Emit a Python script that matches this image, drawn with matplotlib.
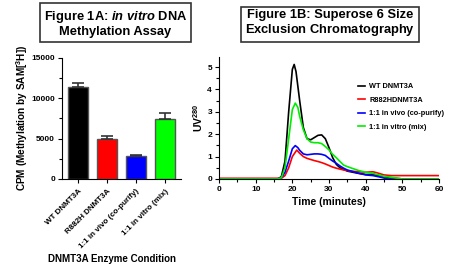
import numpy as np
import matplotlib
matplotlib.use('Agg')
import matplotlib.pyplot as plt
from matplotlib.ticker import MultipleLocator

plt.rcParams['font.family'] = ['Liberation Sans', 'DejaVu Sans']
plt.rcParams['font.weight'] = 'bold'
plt.rcParams['mathtext.fontset'] = 'custom'
plt.rcParams['mathtext.rm'] = 'Liberation Sans:bold'
plt.rcParams['mathtext.bf'] = 'Liberation Sans:bold'
plt.rcParams['mathtext.it'] = 'Liberation Sans:italic:bold'

# Figure 1A data
conditions = ['WT DNMT3A', 'R882H DNMT3A', '1:1 in vivo (co-purify)', '1:1 in vitro (mix)']
cpm = [11400, 5000, 2900, 7400]
cpm_err = [500, 340, 80, 800]
bar_colors = ['#000000', '#ff0000', '#0000ff', '#00ff00']

# Figure 1B data (UV280 traces)
t_wt = [0, 16, 17, 18, 19, 20, 20.5, 21, 22, 23, 24, 25, 26, 27, 28, 29, 30, 31, 32, 33, 35, 38, 40, 42, 45, 48, 50, 60]
uv_wt = [0, 0, 0.1, 0.8, 3.0, 4.9, 5.12, 4.8, 3.5, 2.3, 1.8, 1.75, 1.85, 1.95, 1.97, 1.8, 1.4, 0.95, 0.65, 0.5, 0.35, 0.25, 0.2, 0.2, 0.1, 0.03, 0, 0]

t_r882h = [0, 16, 17, 18, 19, 20, 21.2, 22, 23, 24, 25, 26, 27, 28, 29, 30, 31, 32, 34, 36, 38, 40, 42, 43, 45, 47, 50, 60]
uv_r882h = [0.03, 0.03, 0.03, 0.15, 0.5, 1.0, 1.29, 1.15, 1.0, 0.92, 0.87, 0.82, 0.78, 0.73, 0.67, 0.6, 0.53, 0.48, 0.4, 0.35, 0.32, 0.3, 0.32, 0.28, 0.18, 0.15, 0.15, 0.15]

t_vivo = [0, 16, 17, 18, 19, 20, 20.8, 21.5, 22, 23, 24, 25, 26, 27, 28, 29, 30, 31, 32, 33, 34, 35, 38, 40, 42, 44, 46, 60]
uv_vivo = [0, 0, 0.05, 0.3, 0.8, 1.35, 1.49, 1.4, 1.28, 1.12, 1.08, 1.1, 1.12, 1.12, 1.1, 1.05, 0.92, 0.8, 0.7, 0.58, 0.48, 0.4, 0.26, 0.18, 0.15, 0.08, 0, 0]

t_vitro = [0, 16, 17, 18, 19, 20, 20.8, 21.5, 22, 23, 24, 25, 26, 27, 28, 29, 30, 31, 32, 33, 34, 35, 38, 40, 42, 45, 48, 50, 60]
uv_vitro = [0, 0, 0.05, 0.5, 1.8, 3.1, 3.39, 3.2, 2.8, 2.2, 1.8, 1.65, 1.62, 1.62, 1.58, 1.45, 1.3, 1.1, 0.95, 0.78, 0.62, 0.55, 0.38, 0.3, 0.25, 0.12, 0.05, 0, 0]

fig = plt.figure(figsize=(4.69, 2.77), dpi=100)

# ---- Figure 1A ----
ax1 = fig.add_axes([0.132, 0.354, 0.254, 0.437])
x = np.arange(len(conditions))
ax1.bar(x, cpm, width=0.7, color=bar_colors, edgecolor='#555555', linewidth=1.0,
        yerr=[np.zeros(len(cpm)), cpm_err], capsize=4,
        error_kw=dict(ecolor='#333333', elinewidth=1.2, capthick=1.2))
ax1.set_xlim(-0.55, 3.55)
ax1.set_ylim(0, 15000)
ax1.yaxis.set_major_locator(MultipleLocator(5000))
ax1.yaxis.set_minor_locator(MultipleLocator(2500))
ax1.set_xticks(x)
ax1.set_xticklabels(conditions, rotation=45, ha='right', rotation_mode='anchor', fontsize=5.8)
ax1.tick_params(axis='y', labelsize=6, length=3, width=0.8, pad=2)
ax1.tick_params(axis='y', which='minor', length=2, width=0.8)
ax1.tick_params(axis='x', length=3, width=0.8)
ax1.spines['top'].set_visible(False)
ax1.spines['right'].set_visible(False)
fig.text(22 / 469, 0.575, 'CPM (Methylation by SAM[$^3$H])', rotation=90,
         ha='center', va='center', fontsize=7.2, fontweight='bold')
ax1.set_xlabel('DNMT3A Enzyme Condition', fontsize=7, fontweight='bold')
ax1.xaxis.set_label_coords(0.42, -0.62)

fig.text(0.246, 0.915, 'Figure 1A: $\\mathit{in\\ vitro}$ DNA\nMethylation Assay',
         ha='center', va='center', fontsize=9.3, fontweight='bold', linespacing=1.1,
         bbox=dict(boxstyle='square,pad=0.3', fc='white', ec='#333333', lw=1.2))

# ---- Figure 1B ----
ax2 = fig.add_axes([0.467, 0.354, 0.469, 0.44])
ax2.plot(t_wt, uv_wt, color='black', lw=1.2, label='WT DNMT3A')
ax2.plot(t_r882h, uv_r882h, color='red', lw=1.2, label='R882HDNMT3A')
ax2.plot(t_vivo, uv_vivo, color='blue', lw=1.2, label='1:1 in vivo (co-purify)')
ax2.plot(t_vitro, uv_vitro, color='#00ee00', lw=1.2, label='1:1 in vitro (mix)')
ax2.set_xlim(0, 60)
ax2.set_ylim(0, 5.45)
ax2.xaxis.set_major_locator(MultipleLocator(10))
ax2.xaxis.set_minor_locator(MultipleLocator(5))
ax2.yaxis.set_major_locator(MultipleLocator(1))
ax2.yaxis.set_minor_locator(MultipleLocator(0.5))
ax2.tick_params(labelsize=6, length=3, width=0.8, pad=2)
ax2.tick_params(which='minor', length=2, width=0.8)
ax2.spines['top'].set_visible(False)
ax2.spines['right'].set_visible(False)
ax2.set_ylabel('UV$^{280}$', fontsize=7.5, fontweight='bold', labelpad=2)
ax2.set_xlabel('Time (minutes)', fontsize=7.5, fontweight='bold', labelpad=3)
ax2.legend(loc='upper left', bbox_to_anchor=(0.6, 0.84), frameon=False, fontsize=5.3,
           handlelength=1.0, handletextpad=0.6, labelspacing=0.85)

fig.text(0.704, 0.915, 'Figure 1B: Superose 6 Size\nExclusion Chromatography$\\,$',
         ha='center', va='center', fontsize=9.3, fontweight='bold', linespacing=1.1,
         bbox=dict(boxstyle='square,pad=0.3', fc='white', ec='#333333', lw=1.2))

fig.savefig('out.png', dpi=100)
